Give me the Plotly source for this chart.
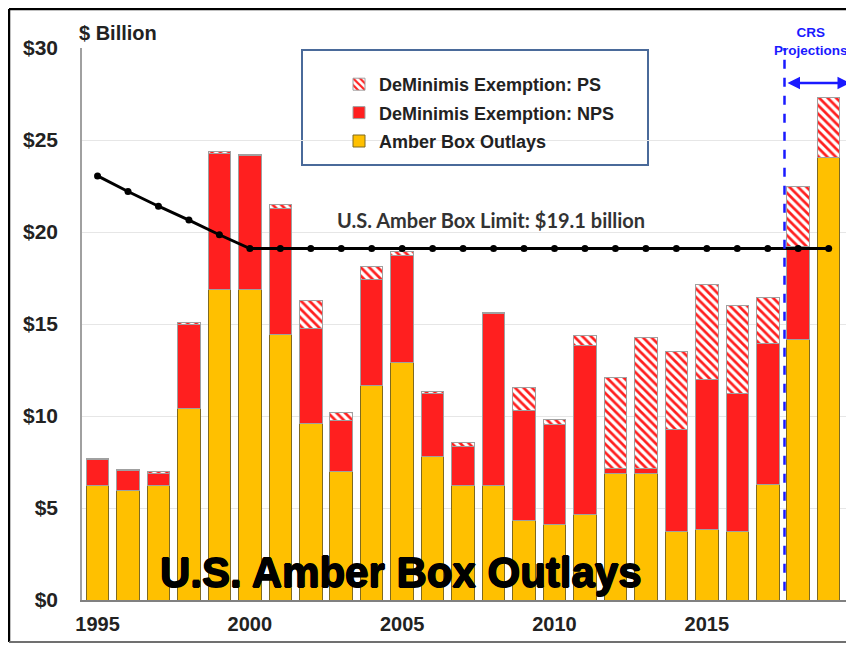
import plotly.graph_objects as go

years = list(range(1995, 2020))
amber = [6.2, 5.95, 6.2, 10.4, 16.9, 16.9, 14.45, 9.6, 7.0, 11.65, 12.9, 7.8, 6.2, 6.2,
         4.3, 4.1, 4.65, 6.85, 6.85, 3.75, 3.85, 3.75, 6.3, 14.15, 24.05]
nps = [1.45, 1.1, 0.65, 4.55, 7.35, 7.25, 6.85, 5.15, 2.75, 5.75, 5.85, 3.4, 2.15, 9.35,
       6.0, 5.45, 9.2, 0.32, 0.32, 5.5, 8.15, 7.45, 7.66, 5.05, 0.0]
ps = [0.05, 0.05, 0.15, 0.15, 0.1, 0.05, 0.2, 1.55, 0.45, 0.7, 0.2, 0.15, 0.2, 0.1,
      1.25, 0.25, 0.5, 4.93, 7.07, 4.25, 5.12, 4.78, 2.49, 3.3, 3.25]
limit = [23.05, 22.2, 21.4, 20.65, 19.85, 19.1, 19.1, 19.1, 19.1, 19.1, 19.1, 19.1, 19.1,
         19.1, 19.1, 19.1, 19.1, 19.1, 19.1, 19.1, 19.1, 19.1, 19.1, 19.1, 19.1]
yticks = [0, 5, 10, 15, 20, 25, 30]
ytext = ["$0", "$5", "$10", "$15", "$20", "$25", "$30"]
xticks = [1995, 2000, 2005, 2010, 2015]

RED = "#ff1f1f"
AMBER = "#ffc000"

fig = go.Figure()
fig.add_trace(go.Bar(x=years, y=amber, name="Amber Box Outlays", legendgroup="a", legendrank=3,
                     marker=dict(color=AMBER, line=dict(color="#7f6a20", width=1))))
fig.add_trace(go.Bar(x=years, y=nps, name="DeMinimis Exemption: NPS", legendgroup="b", legendrank=2,
                     marker=dict(color=RED, line=dict(color="#a0a0a0", width=1))))
fig.add_trace(go.Bar(x=years, y=ps, name="DeMinimis Exemption: PS", legendgroup="c", legendrank=1,
                     marker=dict(color="white", line=dict(color="#a0a0a0", width=1),
                                 pattern=dict(shape="\\", fgcolor=RED, bgcolor="white",
                                              size=6, solidity=0.45, fillmode="replace"))))
fig.add_trace(go.Scatter(x=years, y=limit, mode="lines+markers", showlegend=False,
                         line=dict(color="black", width=3),
                         marker=dict(color="black", size=7)))

# screen-pixel helpers (plot area spans x 82..850, y 48..600 on screen)
def px(x):
    return (x - 82) / 768

def py(y):
    return (600 - y) / 552

shapes = [
    dict(type="rect", xref="paper", yref="paper", x0=px(302), x1=px(648), y0=py(165), y1=py(50),
         line=dict(color="#4a6a9a", width=2), fillcolor="white", layer="below"),
    dict(type="line", xref="x", yref="y", x0=2017.55, x1=2017.55, y0=0.5, y1=30.6,
         line=dict(color="#1a1aff", width=2.5, dash="dash")),
    dict(type="line", xref="paper", yref="paper", x0=px(9), x1=px(854), y0=py(9), y1=py(9),
         line=dict(color="black", width=2.5)),
    dict(type="line", xref="paper", yref="paper", x0=px(9), x1=px(9), y0=py(9), y1=py(642),
         line=dict(color="black", width=2.5)),
    dict(type="line", xref="paper", yref="paper", x0=px(9), x1=px(854), y0=py(642), y1=py(642),
         line=dict(color="#707070", width=2)),
]

annotations = [
    dict(xref="paper", yref="paper", x=px(77), y=py(33), xanchor="left", yanchor="middle",
         text="<b>$ Billion</b>", showarrow=False, font=dict(size=20, color="#222", family="Liberation Sans")),
    dict(xref="x", yref="y", x=2007.9, y=20.65, text="<b>U.S. Amber Box Limit: $19.1 billion</b>",
         showarrow=False, font=dict(size=20, color="#333", family="Lato")),
    dict(xref="x", yref="y", x=2004.95, y=1.5, text="<b>U.S. Amber Box Outlays</b>",
         showarrow=False,
         font=dict(size=42, color="black", family="Liberation Sans",
                   shadow="0.8px 0 0 #000, -0.8px 0 0 #000, 0 0.8px 0 #000, 0 -0.6px 0 #000")),
    dict(xref="paper", yref="paper", x=px(811), y=py(41), xanchor="center", yanchor="middle",
         text="<b>CRS<br>Projections</b>",
         showarrow=False, font=dict(size=13.5, color="#1a1aff", family="Liberation Sans")),
    dict(xref="x", yref="y", x=2019.7, y=28.1, ax=2017.6, ay=28.1, axref="x", ayref="y",
         text="", showarrow=True, arrowhead=2, arrowside="end+start", arrowsize=1,
         arrowwidth=2.5, arrowcolor="#1a1aff"),
]

fig.update_layout(
    width=846, height=637,
    margin=dict(l=74, r=4, t=40, b=45),
    paper_bgcolor="white", plot_bgcolor="white",
    barmode="stack", bargap=0.26,
    shapes=shapes, annotations=annotations,
    showlegend=True,
    legend=dict(x=px(339), y=py(66), xanchor="left", yanchor="top",
                traceorder="grouped", tracegroupgap=2,
                bgcolor="rgba(0,0,0,0)", borderwidth=0,
                font=dict(size=18, color="#222", family="Liberation Sans", weight="bold"),
                itemwidth=30),
    xaxis=dict(range=[1994.49, 2019.7], tickvals=xticks, showgrid=False,
               showline=True, linecolor="#808080", linewidth=1.5,
               ticks="", ticklabelstandoff=5,
               tickfont=dict(size=20, color="#222", family="Liberation Sans", weight="bold")),
    yaxis=dict(range=[0, 30], tickvals=yticks, ticktext=ytext, showgrid=True,
               gridcolor="#e6e6e6", gridwidth=1, zeroline=False,
               showline=True, linecolor="#a0a0a0", linewidth=1.5,
               ticks="", ticklabelstandoff=18,
               tickfont=dict(size=21, color="#222", family="Liberation Sans", weight="bold")),
)

fig.write_html("out.html")
